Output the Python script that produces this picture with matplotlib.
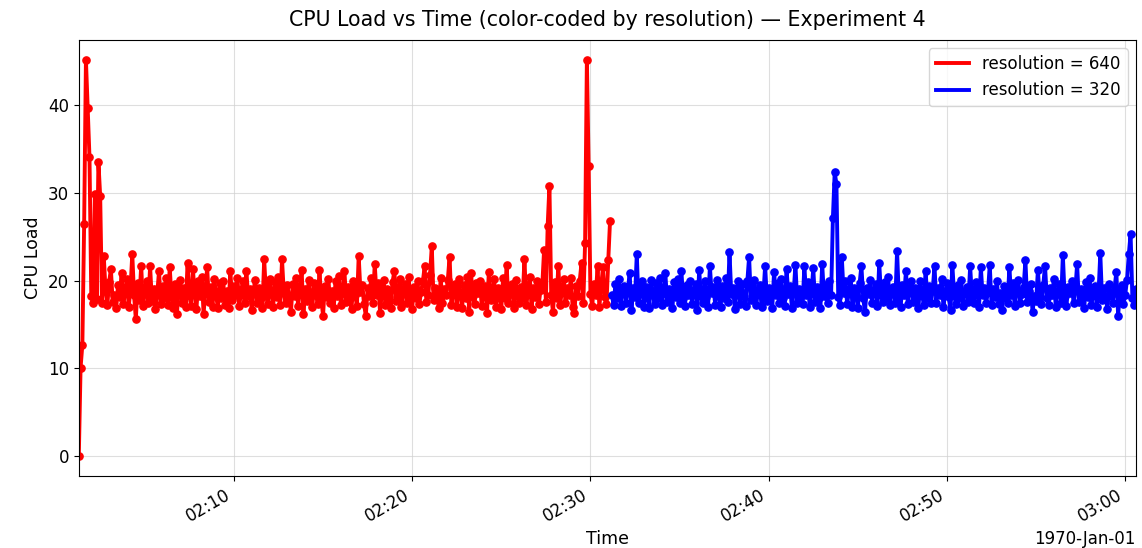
import numpy as np
import pandas as pd
import matplotlib
matplotlib.use("Agg")
import matplotlib.pyplot as plt
import matplotlib.dates as mdates
from matplotlib.lines import Line2D

# CPU load samples, one every 6 s (1 decimal)
red_start = "1970-01-01 02:01:18"   # resolution = 640
blue_start = "1970-01-01 02:31:12"  # resolution = 320
step = "6s"

load_640 = [
    0.0, 10.1, 12.7, 26.4, 45.1, 39.6, 34.0, 18.2, 17.4, 29.8, 17.9, 33.5, 29.6, 17.5, 22.8, 18.9, 17.2, 19.8, 21.3, 17.6,
    18.4, 16.9, 19.5, 18.1, 20.9, 17.3, 18.8, 20.2, 17.0, 19.1, 23.0, 18.3, 15.6, 19.7, 17.8, 21.7, 17.1, 18.6, 20.0, 17.4,
    21.6, 17.7, 19.0, 16.8, 18.5, 21.1, 17.3, 19.4, 18.0, 20.3, 17.2, 21.5, 18.1, 16.9, 19.6, 16.2, 18.7, 20.1, 17.5, 19.2,
    17.0, 22.0, 18.3, 17.1, 21.3, 18.6, 16.8, 19.9, 18.2, 20.4, 16.2, 18.9, 21.5, 17.6, 19.3, 17.0, 20.2, 18.4, 16.9, 19.7,
    18.0, 20.0, 17.2, 18.8, 16.9, 21.1, 17.8, 19.4, 18.3, 20.3, 17.1, 18.7, 19.9, 17.4, 21.1, 18.2, 19.0, 16.6, 18.9, 20.1,
    17.5, 19.2, 18.0, 16.9, 22.4, 18.4, 17.3, 20.2, 18.7, 17.0, 19.8, 18.1, 20.4, 17.2, 22.4, 18.6, 17.4, 19.5, 18.0, 16.4,
    19.6, 18.2, 20.3, 17.1, 18.9, 21.2, 16.2, 19.0, 17.7, 20.1, 18.3, 17.0, 19.7, 18.5, 17.3, 21.2, 18.0, 16.0, 19.4, 18.1,
    20.2, 17.4, 18.8, 16.9, 19.9, 18.2, 20.5, 17.2, 18.6, 21.1, 17.6, 19.3, 18.0, 16.8, 20.0, 18.4, 17.1, 22.8, 18.7, 19.5,
    17.3, 16.0, 19.1, 18.2, 20.3, 17.5, 21.9, 18.4, 19.7, 16.3, 18.8, 20.1, 17.2, 19.0, 18.1, 16.9, 19.8, 21.1, 17.7, 18.5,
    20.2, 17.0, 18.9, 19.6, 17.4, 20.4, 18.2, 16.8, 19.3, 18.0, 20.0, 17.3, 18.7, 19.9, 21.6, 17.6, 18.4, 20.6, 23.9, 17.8,
    19.2, 18.1, 16.9, 20.3, 17.5, 19.0, 18.3, 20.1, 22.7, 17.2, 18.8, 19.6, 17.0, 20.2, 18.4, 16.9, 19.5, 18.0, 20.4, 16.4,
    20.9, 18.2, 17.3, 19.7, 18.6, 20.0, 17.1, 18.9, 19.4, 16.3, 21.0, 17.8, 18.5, 20.2, 17.0, 19.1, 18.3, 16.8, 20.3, 18.0,
    21.8, 17.4, 18.8, 19.6, 16.9, 20.1, 18.2, 17.5, 19.3, 18.0, 22.5, 17.2, 18.7, 20.4, 16.8, 19.2, 18.1, 20.0, 17.3, 18.9,
    19.5, 23.5, 17.6, 26.2, 30.8, 18.3, 16.4, 19.8, 18.0, 21.6, 17.2, 18.9, 20.2, 17.5, 19.1, 18.4, 20.3, 17.0, 16.3, 19.4,
    18.2, 20.0, 22.0, 17.4, 24.3, 45.1, 33.0, 18.5, 17.1, 19.6, 18.3, 21.6, 17.0, 19.2, 21.5, 18.1, 17.3, 22.3, 26.8,
]

load_320 = [
    18.4, 17.2, 19.6, 18.0, 20.2, 17.1, 18.8, 19.4, 17.5, 18.9, 20.9, 16.6, 19.2, 18.1, 23.0, 17.4, 18.7, 20.0, 17.0, 19.3,
    18.2, 16.9, 20.1, 18.5, 17.3, 19.7, 18.0, 20.3, 17.2, 18.6, 20.9, 17.6, 19.0, 18.3, 16.9, 19.8, 18.1, 20.2, 17.4, 21.1,
    18.0, 17.1, 19.5, 18.4, 20.0, 17.3, 18.9, 19.6, 16.7, 21.2, 18.2, 17.5, 19.9, 18.1, 17.0, 21.6, 18.6, 19.3, 17.2, 20.1,
    18.3, 17.0, 19.4, 18.0, 20.3, 17.6, 23.2, 18.5, 19.1, 16.8, 18.7, 20.0, 17.3, 19.6, 18.2, 17.1, 19.9, 22.7, 17.8, 18.6,
    20.1, 17.2, 18.9, 19.5, 17.0, 18.4, 21.7, 17.7, 19.2, 18.1, 16.9, 21.0, 18.3, 19.7, 17.4, 20.2, 18.0, 17.1, 21.3, 18.5,
    19.4, 16.9, 18.7, 21.8, 17.5, 19.0, 18.2, 17.3, 21.6, 18.4, 19.8, 17.0, 18.6, 21.4, 17.6, 19.3, 18.0, 16.9, 21.9, 18.2,
    19.5, 17.4, 20.0, 18.3, 27.1, 32.3, 31.0, 18.1, 17.2, 22.7, 18.6, 19.9, 17.3, 18.8, 20.3, 17.0, 19.1, 18.4, 16.9, 19.7,
    21.7, 18.0, 16.4, 19.2, 18.5, 20.1, 17.4, 18.9, 19.6, 17.1, 22.0, 18.3, 17.6, 19.8, 18.0, 20.4, 17.2, 18.7, 19.3, 17.5,
    23.4, 18.1, 17.0, 19.5, 18.4, 21.1, 17.3, 18.8, 20.0, 17.6, 19.2, 18.2, 16.9, 19.9, 18.5, 17.2, 21.1, 18.0, 19.4, 17.4,
    18.9, 21.7, 17.5, 19.1, 18.3, 20.2, 17.0, 18.6, 19.7, 18.1, 16.7, 21.8, 18.4, 17.3, 19.5, 18.0, 20.1, 17.1, 18.8, 19.3,
    17.6, 21.6, 18.2, 17.4, 19.8, 18.5, 17.0, 21.5, 18.3, 19.2, 17.5, 18.7, 21.8, 17.2, 19.0, 18.1, 20.0, 17.3, 18.6, 16.6,
    19.4, 18.0, 17.5, 21.5, 18.3, 19.7, 17.1, 18.9, 20.1, 17.4, 18.5, 19.3, 22.3, 17.6, 18.8, 19.6, 16.4, 18.2, 17.7, 21.2,
    18.1, 17.3, 19.5, 21.7, 18.0, 17.2, 19.1, 18.4, 20.2, 17.0, 18.7, 19.6, 17.5, 22.9, 18.2, 17.1, 19.3, 18.6, 20.0, 17.4,
    18.9, 21.9, 17.6, 19.0, 18.3, 16.9, 19.8, 18.1, 20.3, 17.2, 18.6, 19.4, 17.0, 18.5, 23.1, 17.8, 19.2, 18.0, 16.8, 19.6,
    18.3, 17.5, 19.1, 21.0, 16.0, 18.7, 19.5, 17.3, 18.4, 20.1, 23.0, 25.3, 18.0, 17.2, 19.0,
]

t_640 = pd.date_range(red_start, periods=len(load_640), freq=step)
t_320 = pd.date_range(blue_start, periods=len(load_320), freq=step)

fig, ax = plt.subplots(figsize=(11.42, 5.48), dpi=100)

# thick lines + big markers so the 6 s samples merge into a solid band
ax.plot(t_640, load_640, color="red", lw=2.8, marker="o", ms=5.2)
ax.plot(t_320, load_320, color="blue", lw=2.8, marker="o", ms=5.2)

ax.set_xlim(t_640[0], t_320[-1])
loc = mdates.MinuteLocator(byminute=range(0, 60, 10))
ax.xaxis.set_major_locator(loc)
ax.xaxis.set_major_formatter(mdates.ConciseDateFormatter(loc))
ax.tick_params(labelsize=12)
ax.grid(True, color="#d0d0d0", alpha=0.7, lw=0.8)

ax.set_title("CPU Load vs Time (color-coded by resolution) \u2014 Experiment 4",
             fontsize=14.8, pad=10)
ax.set_xlabel("Time", fontsize=12.5, labelpad=3)
ax.set_ylabel("CPU Load", fontsize=12.5)

handles = [Line2D([0], [0], color="red", lw=2.8),
           Line2D([0], [0], color="blue", lw=2.8)]
ax.legend(handles, ["resolution = 640", "resolution = 320"], loc="upper right", fontsize=12)

fig.autofmt_xdate()
fig.subplots_adjust(left=0.069, right=0.9947, top=0.927, bottom=0.131)
ax.xaxis.get_offset_text().set_fontsize(12)
fig.savefig("out.png", dpi=100)
